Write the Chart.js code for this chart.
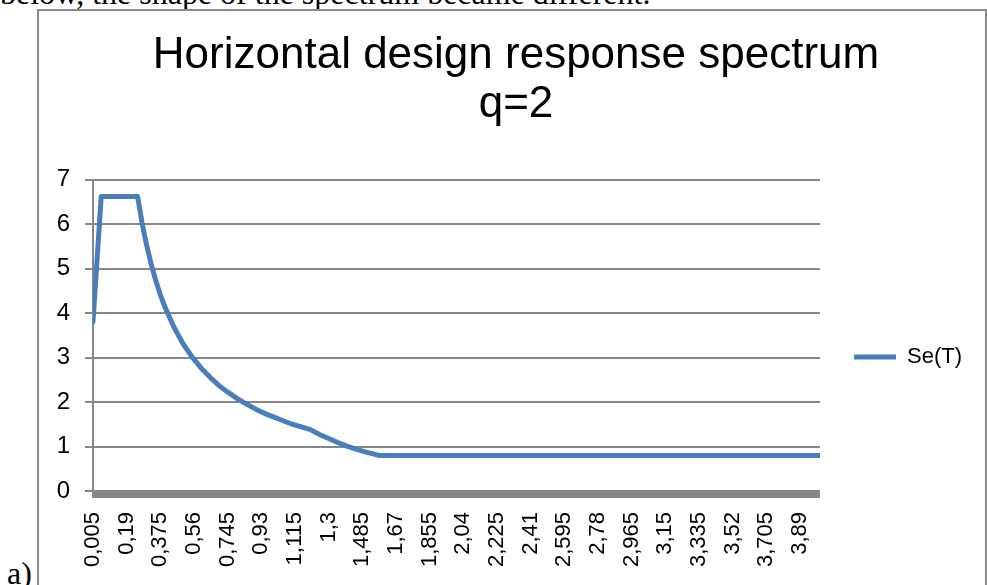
<!DOCTYPE html>
<html>
<head>
<meta charset="utf-8">
<script src="https://cdn.jsdelivr.net/npm/chart.js@4.4.1/dist/chart.umd.min.js"></script>
<style>
    html, body {
        margin: 0;
        padding: 0;
        width: 987px;
        height: 585px;
        overflow: hidden;
        background: #fff;
    }
    .doc-text {
        position: absolute;
        font-family: 'Liberation Serif', 'Times New Roman', serif;
        font-size: 32px;
        line-height: 32px;
        color: #000;
        white-space: nowrap;
    }
    #frame {
        position: absolute;
        left: 37px;
        top: 9px;
        width: 946px;
        height: 700px;
        border: 2px solid #8a8a8a;
        overflow: hidden;
        background: #fff;
    }
    #spectrumChart {
        display: block;
    }
</style>
</head>
<body>
<div class="doc-text" style="left: 0px; top: -23px;">below, the shape of the spectrum became different.</div>
<div class="doc-text" style="left: 7px; top: 557px;">a)</div>
<div id="frame">
    <canvas id="spectrumChart" width="946" height="692"></canvas>
</div>
<script>
    // Se(T), T in seconds
    const periods = [
        0.005, 0.05, 0.25, 0.275, 0.3, 0.325, 0.35, 0.375, 0.4, 0.45, 0.5, 0.55,
        0.6, 0.65, 0.7, 0.75, 0.8, 0.85, 0.9, 0.95, 1.0, 1.05, 1.1, 1.15, 1.2,
        1.25, 1.3, 1.35, 1.4, 1.45, 1.5, 1.55, 1.575, 2.0, 3.0, 4.0
    ];
    const seValues = [
        3.8, 6.62, 6.62, 6.02, 5.52, 5.09, 4.73, 4.41, 4.14, 3.68, 3.31, 3.01,
        2.76, 2.55, 2.36, 2.21, 2.07, 1.95, 1.84, 1.74, 1.66, 1.58, 1.5, 1.44, 1.38,
        1.27, 1.18, 1.09, 1.01, 0.94, 0.88, 0.83, 0.8, 0.8, 0.8, 0.8
    ];

    const xTickLabels = [
        '0,005', '0,19', '0,375', '0,56', '0,745', '0,93', '1,115', '1,3', '1,485',
        '1,67', '1,855', '2,04', '2,225', '2,41', '2,595', '2,78', '2,965', '3,15',
        '3,335', '3,52', '3,705', '3,89'
    ];
    const xTickValues = xTickLabels.map(label => parseFloat(label.replace(',', '.')));

    const seriesName = 'Se(T)';
    const titleLines = ['Horizontal design response spectrum', 'q=2'];

    const axisGrey = '#878787';
    const lineBlue = '#4a7ebb';
    const fontFamily = "'Liberation Sans', Arial, sans-serif";

    // thick grey category axis under the plot
    const axisBar = {
        id: 'axisBar',
        beforeDatasetsDraw(chart) {
            const {ctx, chartArea} = chart;
            ctx.save();
            ctx.fillStyle = axisGrey;
            ctx.fillRect(chartArea.left - 1, chartArea.bottom - 1, chartArea.right - chartArea.left + 1, 8);
            ctx.restore();
        }
    };

    // centre the title a little right of the canvas middle
    const titleShift = {
        id: 'titleShift',
        afterLayout(chart) {
            if (chart.titleBlock) chart.titleBlock.left += 21;
        }
    };

    const points = periods.map((t, i) => ({x: t, y: seValues[i]}));

    new Chart(document.getElementById('spectrumChart'), {
        type: 'line',
        data: {
            datasets: [{
                label: seriesName,
                data: points,
                borderColor: lineBlue,
                backgroundColor: lineBlue,
                borderWidth: 5,
                borderCapStyle: 'round',
                borderJoinStyle: 'round',
                pointRadius: 0,
                tension: 0
            }]
        },
        options: {
            responsive: false,
            animation: false,
            layout: {
                padding: {left: 0, right: 13, top: 0, bottom: 0}
            },
            scales: {
                x: {
                    type: 'linear',
                    min: 0.005,
                    max: 4.0,
                    afterBuildTicks: scale => {
                        scale.ticks = xTickValues.map(value => ({value}));
                    },
                    afterFit: scale => {
                        scale.height = 212;
                    },
                    grid: {display: false, drawTicks: false},
                    border: {display: false},
                    ticks: {
                        autoSkip: false,
                        minRotation: 90,
                        maxRotation: 90,
                        padding: 21,
                        color: '#000',
                        font: {family: fontFamily, size: 22},
                        callback: (value, index) => xTickLabels[index]
                    }
                },
                y: {
                    min: 0,
                    max: 7,
                    afterFit: scale => {
                        scale.width = 54;
                    },
                    grid: {
                        color: axisGrey,
                        lineWidth: 2,
                        tickLength: 8
                    },
                    border: {color: axisGrey, width: 2},
                    ticks: {
                        stepSize: 1,
                        padding: 15,
                        color: '#000',
                        font: {family: fontFamily, size: 24}
                    }
                }
            },
            plugins: {
                title: {
                    display: true,
                    text: titleLines,
                    color: '#000',
                    font: {family: fontFamily, size: 44, weight: 'normal', lineHeight: 1.12},
                    padding: {top: 20, bottom: 50}
                },
                legend: {
                    position: 'right',
                    labels: {
                        usePointStyle: true,
                        pointStyle: 'line',
                        pointStyleWidth: 42,
                        padding: 34,
                        color: '#000',
                        font: {family: fontFamily, size: 22}
                    }
                },
                tooltip: {enabled: false}
            }
        },
        plugins: [axisBar, titleShift]
    });
</script>
</body>
</html>
